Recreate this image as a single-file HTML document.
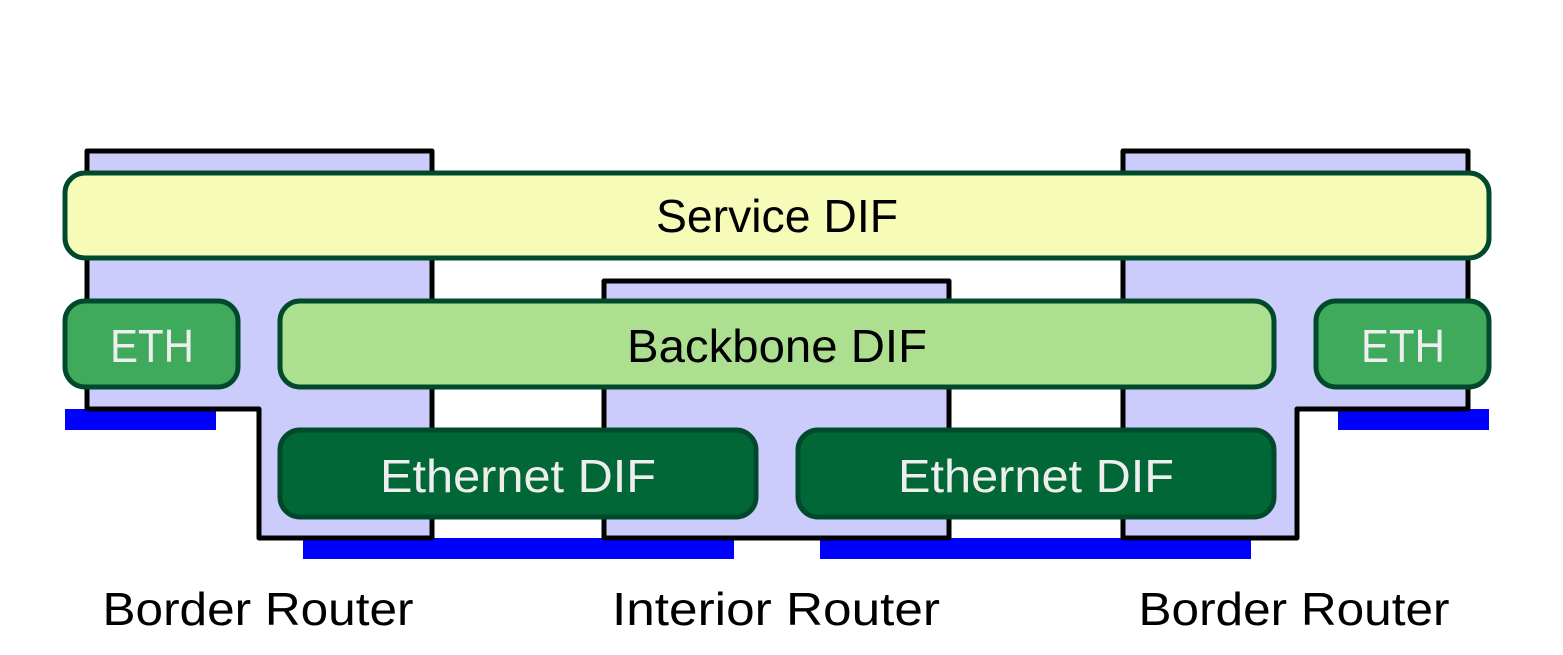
<!DOCTYPE html>
<html><head><style>html,body{margin:0;padding:0;background:#fff;}svg{display:block}</style></head>
<body>
<svg width="1563" height="655" viewBox="0 0 1563 655" xmlns="http://www.w3.org/2000/svg" font-family="'Liberation Sans', sans-serif" font-size="46">
<g fill="#0000ff">
<rect x="65" y="409" width="151" height="21"/>
<rect x="1338" y="409" width="151" height="21"/>
<rect x="303" y="538" width="431" height="21"/>
<rect x="820" y="538" width="431" height="21"/>
</g>
<g fill="#ccccfc" stroke="#000" stroke-width="5" stroke-linejoin="round">
<path d="M87 151 H432 V538 H259 V409 H87 Z"/>
<path d="M1468 151 H1123 V538 H1297 V409 H1468 Z"/>
<rect x="604" y="281" width="345" height="257"/>
</g>
<g stroke="#004a2b" stroke-width="5">
<rect x="65" y="173" width="1424" height="85" rx="20" fill="#f6fbb8"/>
<rect x="65" y="301" width="173" height="86" rx="20" fill="#40aa5c"/>
<rect x="280" y="301" width="994" height="86" rx="20" fill="#addf90"/>
<rect x="1316" y="301" width="173" height="86" rx="20" fill="#40aa5c"/>
<rect x="280" y="430" width="476" height="87" rx="20" fill="#026737"/>
<rect x="798" y="430" width="476" height="87" rx="20" fill="#026737"/>
</g>
<g text-anchor="middle">
<text x="777" y="232" fill="#000" textLength="242" lengthAdjust="spacingAndGlyphs">Service DIF</text>
<text x="777" y="362" fill="#000" textLength="300" lengthAdjust="spacingAndGlyphs">Backbone DIF</text>
<text x="152" y="362" fill="#eee" textLength="84" lengthAdjust="spacingAndGlyphs">ETH</text>
<text x="1403" y="362" fill="#eee" textLength="84" lengthAdjust="spacingAndGlyphs">ETH</text>
<text x="518" y="492" fill="#eee" textLength="276" lengthAdjust="spacingAndGlyphs">Ethernet DIF</text>
<text x="1036" y="492" fill="#eee" textLength="276" lengthAdjust="spacingAndGlyphs">Ethernet DIF</text>
<text x="258" y="625" fill="#000" textLength="311" lengthAdjust="spacingAndGlyphs">Border Router</text>
<text x="776" y="625" fill="#000" textLength="328" lengthAdjust="spacingAndGlyphs">Interior Router</text>
<text x="1294" y="625" fill="#000" textLength="311" lengthAdjust="spacingAndGlyphs">Border Router</text>
</g>
</svg>
</body></html>
